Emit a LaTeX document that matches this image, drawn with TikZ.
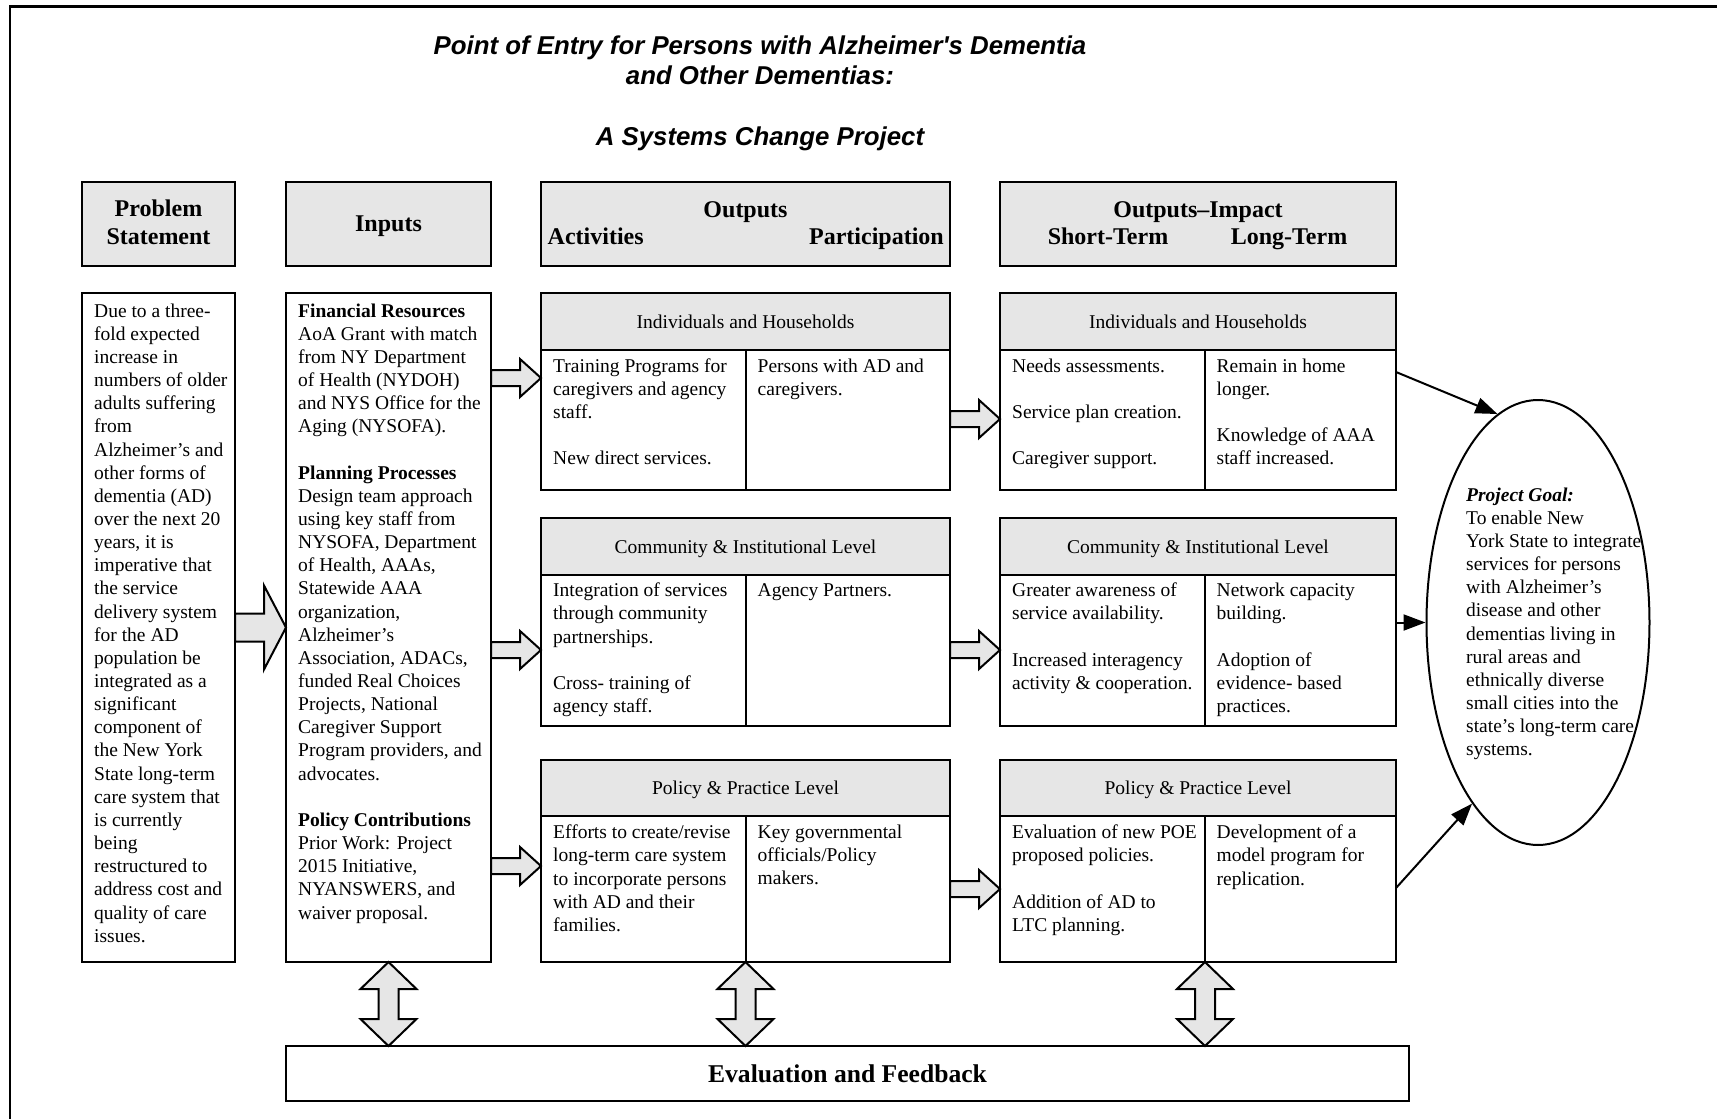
\documentclass[tikz,border=0pt]{standalone}
\usepackage{fontspec}
\setmainfont{Liberation Serif}
\newfontfamily\titlefont{Liberation Sans}
\usetikzlibrary{calc,shapes.geometric,arrows.meta}
\definecolor{hdrgray}{RGB}{230,230,230}

\tikzset{
  frame/.style={line width=2.5pt},
  boxrect/.style={draw, line width=2pt, inner sep=0pt, outer sep=0pt, anchor=north west},
  colhead/.style={boxrect, fill=hdrgray},
  cellhead/.style={boxrect, fill=hdrgray, font=\fontsize{19.5}{23.15}\selectfont, text height=13.5pt, text depth=0pt},
  bodytext/.style={font=\fontsize{19.5}{23.15}\selectfont, align=left, inner sep=0pt, anchor=north west, yshift=13.6pt, execute at begin node=\strut},
  headtext/.style={font=\fontsize{24}{28}\selectfont\bfseries, inner sep=0pt, align=center, anchor=north, yshift=18pt, execute at begin node=\strut},
  titletext/.style={font=\titlefont\fontsize{25.8}{30}\selectfont\bfseries\itshape, inner sep=0pt, align=center, anchor=north, yshift=21pt, execute at begin node=\strut},
  blockarrow/.style={draw, line width=2pt, fill=hdrgray, line join=miter},
  goalarrow/.style={line width=2pt, -{Triangle[length=22pt,width=16pt]}},
}

% horizontal block arrow: from node #1 (east side) to node #2 (west side),
% centre row #3, half shaft #4, half head #5, head length #6
\newcommand\hblock[6]{%
  \draw[blockarrow] let \p1=(#1.east), \p2=(#2.west), \n1={-(#3)} in
    (\x1,{(\n1+#4)*1pt}) -- ({\x2-#6pt},{(\n1+#4)*1pt}) -- ({\x2-#6pt},{(\n1+#5)*1pt})
    -- (\x2,{\n1*1pt}) -- ({\x2-#6pt},{(\n1-#5)*1pt}) -- ({\x2-#6pt},{(\n1-#4)*1pt})
    -- (\x1,{(\n1-#4)*1pt}) -- cycle;}

% vertical double block arrow between node #1 (south) and node #2 (north) at column #3
\newcommand\vblock[3]{%
  \draw[blockarrow] let \p1=(#1.south), \p2=(#2.north) in
    (#3pt,\y1) -- ({(#3+28)*1pt},{\y1-27pt}) -- ({(#3+10)*1pt},{\y1-27pt})
    -- ({(#3+10)*1pt},{\y2+27pt}) -- ({(#3+28)*1pt},{\y2+27pt}) -- (#3pt,\y2)
    -- ({(#3-28)*1pt},{\y2+27pt}) -- ({(#3-10)*1pt},{\y2+27pt})
    -- ({(#3-10)*1pt},{\y1-27pt}) -- ({(#3-28)*1pt},{\y1-27pt}) -- cycle;}

\begin{document}
\begin{tikzpicture}[x=1pt,y=-1pt]
\useasboundingbox (0,0) rectangle (1717,1119);

% page frame
\draw[frame] (10,1119) -- (10,6.5) -- (1717,6.5);

% title
\node[titletext] (title) at (760,57) {Point of Entry for Persons with Alzheimer's Dementia\\and Other Dementias:};
\node[titletext] (subtitle) at (760,145.5) {A Systems Change Project};

% column heads
\node[colhead, minimum width=153pt, minimum height=83.5pt] (probhead) at (82,182) {};
\node[colhead, minimum width=205pt, minimum height=83.5pt] (inhead) at (286,182) {};
\node[colhead, minimum width=409pt, minimum height=83.5pt] (outhead) at (541,182) {};
\node[colhead, minimum width=396pt, minimum height=83.5pt] (imphead) at (1000,182) {};

\node[headtext] (probtitle) at (158.5,218) {Problem\\Statement};
\node[headtext] (intitle) at (388.5,230) {Inputs};
\node[headtext] (outtitle) at (745.5,216) {Outputs};
\node[headtext, anchor=north west] (acttitle) at (547.5,243) {Activities};
\node[headtext, anchor=north east] (parttitle) at (944,243) {Participation};
\node[headtext] (imptitle) at (1198,216) {Outputs--Impact};
\node[headtext] (shorttitle) at (1108,243) {Short-Term};
\node[headtext] (longtitle) at (1289,243) {Long-Term};

% problem statement and inputs
\node[boxrect, minimum width=153pt, minimum height=669pt] (probbox) at (82,293) {};
\node[boxrect, minimum width=205pt, minimum height=669pt] (inbox) at (286,293) {};

\node[bodytext] (probtext) at (94,317) {Due to a three-\\fold expected\\increase in\\numbers of older\\adults suffering\\from\\Alzheimer's and\\other forms of\\dementia (AD)\\over the next 20\\years, it is\\imperative that\\the service\\delivery system\\for the AD\\population be\\integrated as a\\significant\\component of\\the New York\\State long-term\\care system that\\is currently\\being\\restructured to\\address cost and\\quality of care\\issues.};

\node[bodytext] (intext) at (298,317) {\textbf{Financial Resources}\\AoA Grant with match\\from NY Department\\of Health (NYDOH)\\and NYS Office for the\\Aging (NYSOFA).\\[23.15pt]
\textbf{Planning Processes}\\Design team approach\\using key staff from\\NYSOFA, Department\\of Health, AAAs,\\Statewide AAA\\organization,\\Alzheimer's\\Association, ADACs,\\funded Real Choices\\Projects, National\\Caregiver Support\\Program providers, and\\advocates.\\[23.15pt]
\textbf{Policy Contributions}\\Prior Work: Project\\2015 Initiative,\\NYANSWERS, and\\waiver proposal.};

% outputs: activities and participation
\node[cellhead, minimum width=409pt, minimum height=57pt] (oh1) at (541,293) {Individuals and Households};
\node[boxrect, minimum width=204.5pt, minimum height=140pt] (oa1) at (541,350) {};
\node[boxrect, minimum width=204.5pt, minimum height=140pt] (op1) at (745.5,350) {};

\node[cellhead, minimum width=409pt, minimum height=56.5pt] (oh2) at (541,518) {Community \& Institutional Level};
\node[boxrect, minimum width=204.5pt, minimum height=151.5pt] (oa2) at (541,574.5) {};
\node[boxrect, minimum width=204.5pt, minimum height=151.5pt] (op2) at (745.5,574.5) {};

\node[cellhead, minimum width=409pt, minimum height=56pt] (oh3) at (541,760) {Policy \& Practice Level};
\node[boxrect, minimum width=204.5pt, minimum height=146pt] (oa3) at (541,816) {};
\node[boxrect, minimum width=204.5pt, minimum height=146pt] (op3) at (745.5,816) {};

\node[bodytext] (oa1text) at (553,372) {Training Programs for\\caregivers and agency\\staff.\\[23.15pt]New direct services.};
\node[bodytext] (op1text) at (757.5,372) {Persons with AD and\\caregivers.};
\node[bodytext] (oa2text) at (553,596.5) {Integration of services\\through community\\partnerships.\\[23.15pt]Cross- training of\\agency staff.};
\node[bodytext] (op2text) at (757.5,593.5) {Agency Partners.};
\node[bodytext] (oa3text) at (553,838.5) {Efforts to create/revise\\long-term care system\\to incorporate persons\\with AD and their\\families.};
\node[bodytext] (op3text) at (757.5,838.5) {Key governmental\\officials/Policy\\makers.};

% outputs-impact: short-term and long-term
\node[cellhead, minimum width=396pt, minimum height=57pt] (ih1) at (1000,293) {Individuals and Households};
\node[boxrect, minimum width=205pt, minimum height=140pt] (is1) at (1000,350) {};
\node[boxrect, minimum width=191pt, minimum height=140pt] (il1) at (1205,350) {};

\node[cellhead, minimum width=396pt, minimum height=56.5pt] (ih2) at (1000,518) {Community \& Institutional Level};
\node[boxrect, minimum width=205pt, minimum height=151.5pt] (is2) at (1000,574.5) {};
\node[boxrect, minimum width=191pt, minimum height=151.5pt] (il2) at (1205,574.5) {};

\node[cellhead, minimum width=396pt, minimum height=56pt] (ih3) at (1000,760) {Policy \& Practice Level};
\node[boxrect, minimum width=205pt, minimum height=146pt] (is3) at (1000,816) {};
\node[boxrect, minimum width=191pt, minimum height=146pt] (il3) at (1205,816) {};

\node[bodytext] (is1text) at (1012,372) {Needs assessments.\\[23.15pt]Service plan creation.\\[23.15pt]Caregiver support.};
\node[bodytext] (il1text) at (1216.5,372) {Remain in home\\longer.\\[23.15pt]Knowledge of AAA\\staff increased.};
\node[bodytext] (is2text) at (1012,596.5) {Greater awareness of\\service availability.\\[23.15pt]Increased interagency\\activity \& cooperation.};
\node[bodytext] (il2text) at (1216.5,596.5) {Network capacity\\building.\\[23.15pt]Adoption of\\evidence- based\\practices.};
\node[bodytext] (is3text) at (1012,838.5) {Evaluation of new POE\\proposed policies.\\[23.15pt]Addition of AD to\\LTC planning.};
\node[bodytext] (il3text) at (1216.5,838.5) {Development of a\\model program for\\replication.};

% evaluation bar
\node[boxrect, minimum width=1123pt, minimum height=55pt, font=\fontsize{25.6}{30}\selectfont\bfseries, text height=17.6pt, text depth=0pt] (evalbox) at (286,1046) {Evaluation and Feedback};

% project goal
\node[draw, ellipse, line width=2pt, inner sep=0pt, minimum width=223pt, minimum height=445pt] (goal) at (1538,622.5) {};
\node[bodytext] (goaltext) at (1466,501) {\textbf{\textit{Project Goal:}}\\To enable New\\York State to integrate\\services for persons\\with Alzheimer's\\disease and other\\dementias living in\\rural areas and\\ethnically diverse\\small cities into the\\state's long-term care\\systems.};

% block arrows
\hblock{probbox}{inbox}{627.5}{14}{42}{22}
\hblock{inbox}{oa1}{378}{8}{19}{21}
\hblock{inbox}{oa2}{650}{8}{19}{21}
\hblock{inbox}{oa3}{866}{8}{19}{21}
\hblock{op1}{is1}{419}{8}{19}{21}
\hblock{op2}{is2}{650}{8}{19}{21}
\hblock{op3}{is3}{889}{8}{19}{21}

\vblock{inbox}{evalbox}{388.5}
\vblock{op3}{evalbox}{745.5}
\vblock{il3}{evalbox}{1205}

% arrows into the goal
\coordinate (g1) at (0,372);
\coordinate (g3) at (0,888);
\draw[goalarrow] (il1.east |- g1) -- (goal.101.7);
\draw[goalarrow] (il2.east |- goal.west) -- (goal.west);
\draw[goalarrow] (il3.east |- g3) -- (goal.250);
\end{tikzpicture}
\end{document}
